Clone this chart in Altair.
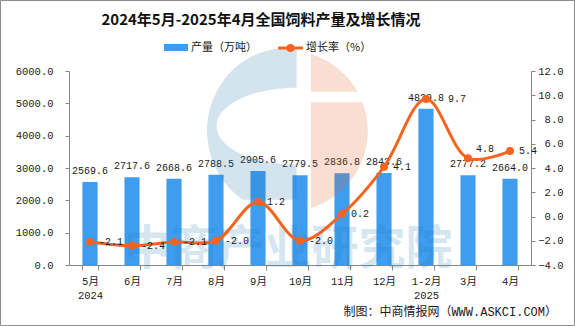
import altair as alt
import pandas as pd

# ---------------- data ----------------
months = ["5月", "6月", "7月", "8月", "9月", "10月", "11月", "12月", "1-2月", "3月", "4月"]
production = [2569.6, 2717.6, 2668.6, 2788.5, 2905.6, 2779.5, 2836.8, 2843.6, 4829.8, 2777.2, 2664.0]
growth = [-2.1, -2.4, -2.1, -2.0, 1.2, -2.0, 0.2, 4.1, 9.7, 4.8, 5.4]
left_ticks = [0, 1000, 2000, 3000, 4000, 5000, 6000]
right_ticks = [-4, -2, 0, 2, 4, 6, 8, 10, 12]

title_text = "2024年5月-2025年4月全国饲料产量及增长情况"
legend_bar = "产量（万吨）"
legend_line = "增长率（%）"
footer_text = "制图：中商情报网（WWW.ASKCI.COM）"
watermark_text = "中商产业研究院"

df = pd.DataFrame({"month": months, "prod": production, "growth": growth})
df["prod_label"] = df["prod"].map(lambda v: f"{v:.1f}")
df["growth_label"] = df["growth"].map(lambda v: f"{v:.1f}")

W, H = 462, 194
NUM_FONT = "Liberation Mono, Noto Sans CJK SC"
CJK = "Noto Sans CJK SC"
BAR_C = "#3f9df0"
LINE_C = "#f5641e"
AX_C = "#888888"
TXT_C = "#1a1a1a"

base = alt.Chart(df)

x = alt.X(
    "month:N", sort=months, title=None,
    scale=alt.Scale(paddingInner=0.64, paddingOuter=0.32),
    axis=alt.Axis(
        labelAngle=0, tickBand="extent",
        labelExpr="datum.value == '5月' ? ['5月','2024'] : datum.value == '1-2月' ? ['1-2月','2025'] : datum.value",
        labelFont=NUM_FONT, labelFontSize=10.5, labelColor=TXT_C, labelLineHeight=14,
        labelPadding=6, tickSize=5, domainColor=AX_C, tickColor=AX_C, labelBaseline="top",
    ),
)

y_left = alt.Y(
    "prod:Q", title=None,
    scale=alt.Scale(domain=[0, 6000], nice=False),
    axis=alt.Axis(orient="left", values=left_ticks, format=".1f", grid=False,
                  labelFont=NUM_FONT, labelFontSize=10.5, labelColor=TXT_C,
                  labelPadding=12, tickSize=4, domainColor=AX_C, tickColor=AX_C),
)
y_right = alt.Y(
    "growth:Q", title=None,
    scale=alt.Scale(domain=[-4, 12], nice=False),
    axis=alt.Axis(orient="right", values=right_ticks, format=".1f", grid=False,
                  labelFont=NUM_FONT, labelFontSize=10.5, labelColor=TXT_C,
                  labelAlign="right", labelPadding=28, tickSize=4,
                  domainColor=AX_C, tickColor=AX_C),
)

bars = base.mark_bar(color=BAR_C).encode(x=x, y=y_left)
bar_text = base.mark_text(font=NUM_FONT, fontSize=10, color=TXT_C, dy=-8,
                          baseline="alphabetic").encode(x=x, y=y_left, text="prod_label:N")
left = alt.layer(bars, bar_text)

line = base.mark_line(color=LINE_C, strokeWidth=3, interpolate="catmull-rom").encode(x=x, y=y_right)
pts = base.mark_circle(color=LINE_C, size=64, opacity=1).encode(x=x, y=y_right)

txt_kw = dict(font=NUM_FONT, fontSize=10, color=TXT_C, align="left", baseline="middle")
enc_kw = dict(x=x, y=y_right, text="growth_label:N")
pt_text = base.transform_filter(
    "datum.month != '1-2月' && datum.month != '3月'"
).mark_text(dx=9, **txt_kw).encode(**enc_kw)
pt_text_peak = base.transform_filter("datum.month == '1-2月'").mark_text(dx=22, **txt_kw).encode(**enc_kw)
pt_text_mar = base.transform_filter("datum.month == '3月'").mark_text(dx=8, dy=-9, **txt_kw).encode(**enc_kw)
right = alt.layer(line, pts, pt_text, pt_text_peak, pt_text_mar)

one = alt.Data(values=[{"k": 1}])
deco = alt.Chart(one)

# faint logo watermark
blue_path = ("M 0.12 -1.03 A 1.0 1.04 0 0 0 -1.0 0 A 1.0 1.04 0 0 0 -0.55 0.86 "
             "L 0.12 0.86 L 0.12 0.42 A 1.0 0.48 0 0 1 -0.88 -0.06 "
             "A 1.0 0.48 0 0 1 0.12 -0.54 Z")
salmon_path = ("M 0.3 -0.964 A 1.01 1.01 0 0 1 0.883 -0.49 L 0.3 -0.49 Z "
               "M 0.3 -0.36 L 0.944 -0.36 A 1.01 1.01 0 0 1 0.3 0.964 Z")
logo_blue = deco.mark_point(shape=blue_path, size=25600, filled=True, fill="#2378af",
                            opacity=0.2, strokeWidth=0).encode(x=alt.value(218), y=alt.value(60))
logo_salmon = deco.mark_point(shape=salmon_path, size=25600, filled=True, fill="#e15f23",
                              opacity=0.2, strokeWidth=0).encode(x=alt.value(218), y=alt.value(60))
watermark = deco.mark_text(text=watermark_text, font=CJK, fontSize=47, fontWeight="bold",
                           color="#2378af", opacity=0.18, align="center",
                           baseline="middle").encode(x=alt.value(219), y=alt.value(179))

title = deco.mark_text(text=title_text, font=CJK, fontSize=15, fontWeight="bold", color="#111",
                       align="center", baseline="middle").encode(x=alt.value(192), y=alt.value(-51))
leg_rect = deco.mark_rect(color=BAR_C).encode(x=alt.value(95), x2=alt.value(119),
                                               y=alt.value(-27), y2=alt.value(-20))
leg_t1 = deco.mark_text(text=legend_bar, font=CJK, fontSize=11, color=TXT_C, align="left",
                        baseline="middle").encode(x=alt.value(122), y=alt.value(-23.5))
leg_line = deco.mark_rule(color=LINE_C, strokeWidth=3).encode(x=alt.value(209), x2=alt.value(234),
                                                              y=alt.value(-23))
leg_pt = deco.mark_circle(color=LINE_C, size=64, opacity=1).encode(x=alt.value(221.5), y=alt.value(-23))
leg_t2 = deco.mark_text(text=legend_line, font=CJK, fontSize=11, color=TXT_C, align="left",
                        baseline="middle").encode(x=alt.value(237), y=alt.value(-23.5))
footer = deco.mark_text(text=footer_text, font=NUM_FONT, fontSize=12, color=TXT_C, align="right",
                        baseline="middle").encode(x=alt.value(488), y=alt.value(241))
border = deco.mark_rect(fill=None, stroke="#8c8c8c", strokeWidth=1).encode(
    x=alt.value(-68.5), x2=alt.value(505.5), y=alt.value(-70.5), y2=alt.value(254.5))

chart = alt.layer(
    left, logo_blue, logo_salmon, watermark, right,
    title, leg_rect, leg_t1, leg_line, leg_pt, leg_t2, footer, border,
).resolve_scale(y="independent").properties(
    width=W, height=H,
    padding={"left": 69, "top": 71, "right": 44, "bottom": 61},
    autosize=alt.AutoSizeParams(type="none"),
    background="white",
).configure_view(stroke=None)

chart.save("out.html", embed_options={"renderer": "svg", "actions": False})
